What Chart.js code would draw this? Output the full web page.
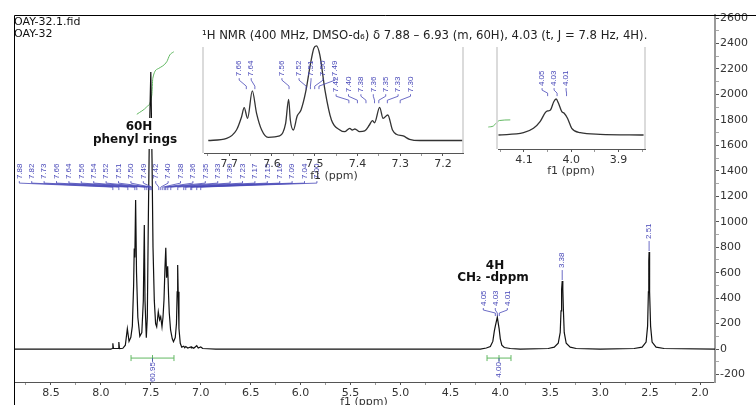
<!DOCTYPE html>
<html>
<head>
<meta charset="utf-8">
<script src="https://cdn.jsdelivr.net/npm/chart.js@4.4.1/dist/chart.umd.min.js"></script>
<style>
  html, body { margin: 0; padding: 0; background: #fff; }
  #wrap { position: relative; width: 756px; height: 405px; overflow: hidden; }
  canvas { position: absolute; }
</style>
</head>
<body>
<div id="wrap">
  <canvas id="main" width="756" height="405" style="left:0;top:0"></canvas>
  <canvas id="inset1" width="280" height="150" style="left:194px;top:40px"></canvas>
  <canvas id="inset2" width="170" height="150" style="left:488px;top:40px"></canvas>
</div>
<script>
// full spectrum (ppm, intensity)
const specPpm = [8.87, 7.90, 7.885, 7.88, 7.874, 7.826, 7.82, 7.814, 7.78, 7.755, 7.735, 7.718, 7.70,
  7.685, 7.672, 7.666, 7.660, 7.652, 7.643, 7.63, 7.61, 7.59, 7.575, 7.565, 7.558, 7.545, 7.535,
  7.525, 7.515, 7.50, 7.488, 7.478, 7.465, 7.452, 7.441, 7.425, 7.412, 7.401, 7.388, 7.378, 7.368,
  7.358, 7.350, 7.342, 7.331, 7.322, 7.315, 7.302, 7.285, 7.273, 7.255, 7.243, 7.236, 7.231, 7.226,
  7.218, 7.205, 7.19, 7.17, 7.16, 7.15, 7.13, 7.10, 7.095, 7.09, 7.07, 7.04, 7.025, 7.00, 6.98,
  6.93, 6.85, 4.20, 4.14, 4.10, 4.075, 4.06, 4.05, 4.04, 4.03, 4.02, 4.012, 4.00, 3.985, 3.96,
  3.90, 3.80, 3.52, 3.46, 3.42, 3.40, 3.392, 3.386, 3.38, 3.374, 3.368, 3.36, 3.34, 3.30, 3.24,
  3.0, 2.66, 2.58, 2.54, 2.525, 2.517, 2.513, 2.51, 2.507, 2.503, 2.495, 2.48, 2.44, 2.36, 1.85];
const specInt = [0, 0, 4, 45, 4, 4, 55, 4, 6, 30, 160, 60, 92,
  180, 500, 790, 720, 1170, 600, 250, 100, 130, 380, 975, 380, 88, 250,
  1000, 1650, 2176, 1500, 800, 380, 200, 175, 293, 230, 254, 175, 250, 385,
  640, 795, 560, 650, 420, 283, 150, 80, 57, 90, 200, 450, 660, 450,
  160, 45, 15, 22, 10, 20, 8, 16, 9, 16, 6, 26, 8, 16, 4,
  2, 0, 0, 8, 20, 60, 140, 180, 215, 250, 200, 160, 80, 30, 12,
  4, 0, 4, 15, 45, 130, 300, 470, 534, 470, 300, 130, 45, 15, 4,
  0, 4, 15, 55, 180, 450, 690, 762, 690, 450, 180, 55, 15, 4, 0];

// integral curves
const integ60Ppm = [7.64, 7.54, 7.49, 7.48, 7.42, 7.34, 7.31, 7.27];
const integ60Val = [1844, 1903, 1995, 2127, 2205, 2257, 2310, 2335];
const integ4Ppm = [4.12, 4.07, 4.04, 4.01, 3.90];
const integ4Val = [1744, 1752, 1775, 1795, 1800];
const integralRanges = [[7.698, 7.268], [4.133, 3.893]];
const integralValues = ['60.95', '4.00'];

// peak picking labels
const mainPeakLabels = [7.88, 7.82, 7.73, 7.66, 7.64, 7.56, 7.54, 7.52, 7.51, 7.50, 7.49, 7.42, 7.40,
  7.38, 7.36, 7.35, 7.33, 7.30, 7.23, 7.17, 7.15, 7.10, 7.09, 7.04, 7.00];
const ch2PeakLabels = [4.05, 4.03, 4.01];
const singlePeakLabels = [3.38, 2.51];
const inset1LabelsA = [7.66, 7.64, 7.56, 7.52, 7.51, 7.50, 7.49];
const inset1LabelsB = [7.42, 7.40, 7.38, 7.36, 7.35, 7.33, 7.30];
const inset2Labels = [4.05, 4.03, 4.01];

// aromatic zoom (relative intensity)
const inset1Ppm = [7.749, 7.706, 7.683, 7.671, 7.665, 7.657, 7.646, 7.636, 7.624, 7.609, 7.582, 7.568,
  7.561, 7.557, 7.550, 7.541, 7.532, 7.521, 7.511, 7.502, 7.496, 7.488, 7.476, 7.461, 7.441, 7.430,
  7.418, 7.412, 7.406, 7.395, 7.383, 7.372, 7.365, 7.360, 7.348, 7.340, 7.329, 7.318, 7.309, 7.293,
  7.278, 7.254, 7.154];
const inset1Int = [0, 2.3, 11.1, 25.2, 34.7, 23.5, 52.4, 28.8, 11.1, 3.4, 4.8, 18.2,
  43.6, 21.7, 11.1, 25.9, 32.3, 51.6, 78.1, 97.6, 100, 90.5, 53.4, 22, 11.1, 9.3,
  12.9, 11.1, 12.2, 9.3, 10.1, 16.4, 21, 18.8, 35.1, 23.5, 27, 11.1, 6.6, 4.8,
  1.3, 0, 0];

// CH2 zoom (relative intensity)
const inset2Ppm = [4.154, 4.101, 4.080, 4.066, 4.055, 4.050, 4.044, 4.037, 4.032, 4.027, 4.020,
  4.015, 4.008, 3.999, 3.981, 3.939, 3.847];
const inset2Int = [0, 6.4, 18.6, 37, 62, 66.7, 69.4, 92.5, 100, 88, 64.7, 60.3, 46.4, 18.6, 6.4, 2, 0];

// tick labels
const mainXTicks = [8.5, 8.0, 7.5, 7.0, 6.5, 6.0, 5.5, 5.0, 4.5, 4.0, 3.5, 3.0, 2.5, 2.0];
const mainYTicks = [-200, 0, 200, 400, 600, 800, 1000, 1200, 1400, 1600, 1800, 2000, 2200, 2400, 2600];
const inset1Ticks = [7.7, 7.6, 7.5, 7.4, 7.3, 7.2];
const inset2Ticks = [4.1, 4.0, 3.9];

const green = '#62b862';
const blue = '#4848b8';
const integralBarY = -71;

const xy = (xs, ys) => xs.map((x, i) => ({ x, y: ys[i] }));
const sum = a => a.reduce((s, v) => s + v, 0);

function withMinors(majors, lo, hi) {
  const step = Math.abs(majors[1] - majors[0]);
  const all = [];
  majors.forEach(m => [m - step / 2, m, m + step / 2].forEach(v => {
    v = Math.round(v * 1000) / 1000;
    if (v >= lo && v <= hi && !all.includes(v)) all.push(v);
  }));
  return all.sort((a, b) => a - b);
}
const isMajor = (majors, v) => majors.some(m => Math.abs(m - v) < 1e-6);

function axisX(majors, lo, hi, h) {
  const all = withMinors(majors, lo, hi);
  return {
    type: 'linear', reverse: true, min: lo, max: hi,
    afterBuildTicks: s => { s.ticks = all.map(v => ({ value: v })); },
    afterFit: s => { s.height = h; },
    grid: { drawOnChartArea: false, tickLength: 3,
      tickColor: c => (c.tick && isMajor(majors, c.tick.value)) ? '#555' : '#999' },
    border: { color: '#555' },
    ticks: { autoSkip: false, maxRotation: 0, padding: 2, color: '#333',
      font: { family: 'DejaVu Sans', size: 11 },
      callback: v => isMajor(majors, v) ? v.toFixed(1) : '' }
  };
}

// rotated peak labels with connectors down to the peak positions
function peakLabels(cfg) {
  return {
    id: 'peakLabels',
    afterDatasetsDraw(chart) {
      const { ctx, scales: { x, y } } = chart;
      ctx.save();
      ctx.font = "8px 'Liberation Sans'";
      ctx.fillStyle = blue;
      ctx.strokeStyle = blue;
      ctx.lineWidth = 0.8;
      const label = (txt, lx, yb) => {
        ctx.save();
        ctx.translate(lx, yb);
        ctx.rotate(-Math.PI / 2);
        ctx.textAlign = 'left';
        ctx.textBaseline = 'middle';
        ctx.fillText(txt, 1, 0);
        ctx.restore();
      };
      (cfg.groups || []).forEach(g => {
        const peaks = g.values.map(v => x.getPixelForValue(v));
        const order = peaks.map((p, i) => i).sort((a, b) => peaks[a] - peaks[b]);
        const pos = [];
        order.forEach((idx, k) => {
          pos[k] = k === 0 ? peaks[idx] : Math.max(peaks[idx], pos[k - 1] + g.gap);
        });
        const shift = (sum(order.map(i => peaks[i])) - sum(pos)) / pos.length + (g.nudge || 0);
        const yb = y.getPixelForValue(g.textBottom);
        order.forEach((idx, k) => {
          const lx = pos[k] + shift, px = peaks[idx];
          label(g.values[idx].toFixed(2), lx, yb);
          ctx.beginPath();
          ctx.moveTo(lx, yb + 1);
          ctx.lineTo(lx, yb + 3);
          ctx.lineTo(px, yb + g.drop - 3);
          ctx.lineTo(px, yb + g.drop);
          ctx.stroke();
        });
      });
      (cfg.singles || []).forEach(v => {
        const pts = chart.data.datasets[0].data.filter(p => Math.abs(p.x - v) < 0.02);
        const top = y.getPixelForValue(Math.max(...pts.map(p => p.y)));
        const px = x.getPixelForValue(v);
        label(v.toFixed(2), px, top - 12);
        ctx.beginPath();
        ctx.moveTo(px, top - 11);
        ctx.lineTo(px, top - 1);
        ctx.stroke();
      });
      if (cfg.integrals) {
        const by = y.getPixelForValue(integralBarY);
        cfg.integrals.ranges.forEach((r, i) => {
          const cx = x.getPixelForValue((r[0] + r[1]) / 2);
          ctx.beginPath();
          ctx.moveTo(cx, by);
          ctx.lineTo(cx, by + 4);
          ctx.stroke();
          ctx.save();
          ctx.translate(cx, by + 4);
          ctx.rotate(-Math.PI / 2);
          ctx.textAlign = 'right';
          ctx.textBaseline = 'middle';
          ctx.fillText(cfg.integrals.labels[i], 0, 0);
          ctx.restore();
        });
      }
      ctx.restore();
    }
  };
}

// header texts, annotations and the frame
const notesPlugin = {
  id: 'notes',
  afterDraw(chart) {
    const { ctx, chartArea: a } = chart;
    ctx.save();
    ctx.strokeStyle = '#000';
    ctx.lineWidth = 1;
    ctx.beginPath();
    ctx.moveTo(a.left + 0.5, 405);
    ctx.lineTo(a.left + 0.5, a.top + 0.5);
    ctx.lineTo(756, a.top + 0.5);
    ctx.stroke();

    const txt = (s, x, y, font, align, color) => {
      ctx.font = font;
      ctx.textAlign = align || 'left';
      ctx.textBaseline = 'middle';
      ctx.fillStyle = color || '#111';
      ctx.fillText(s, x, y);
    };
    txt('OAY-32.1.fid', 14, 22, "11px 'DejaVu Sans'");
    txt('OAY-32', 14, 34, "11px 'DejaVu Sans'");

    const head = '\u00b9H NMR (400 MHz, DMSO-d\u2086) \u03b4 7.88 \u2013 6.93 (m, 60H), 4.03 (t, J = 7.8 Hz, 4H).';
    ctx.font = "10px 'DejaVu Sans'";
    const size = 10 * 446 / ctx.measureText(head).width;
    txt(head, 202, 36, size.toFixed(2) + "px 'DejaVu Sans'", 'left', '#222');

    ctx.fillStyle = '#fff';
    ctx.fillRect(91, 118, 89, 31);
    txt('60H', 139, 127, "bold 12px 'DejaVu Sans'", 'center');
    txt('phenyl rings', 135, 140, "bold 12px 'DejaVu Sans'", 'center');
    txt('4H', 495, 266, "bold 12px 'DejaVu Sans'", 'center');
    txt('CH\u2082 -dppm', 493, 278, "bold 12px 'DejaVu Sans'", 'center');

    txt('f1 (ppm)', 364, 402, "11px 'DejaVu Sans'", 'center', '#333');
    txt('f1 (ppm)', 334, 176, "11px 'DejaVu Sans'", 'center', '#333');
    txt('f1 (ppm)', 571, 171, "11px 'DejaVu Sans'", 'center', '#333');
    ctx.restore();
  }
};

const insetFrame = {
  id: 'insetFrame',
  afterDraw(chart) {
    const { ctx, chartArea: a } = chart;
    ctx.save();
    ctx.strokeStyle = '#cfcfcf';
    ctx.lineWidth = 1.5;
    ctx.beginPath();
    ctx.moveTo(a.left - 1, a.top + 2);
    ctx.lineTo(a.left - 1, a.bottom);
    ctx.moveTo(a.right, a.top + 2);
    ctx.lineTo(a.right, a.bottom);
    ctx.stroke();
    ctx.restore();
  }
};

const mainXAll = withMinors(mainXTicks, 1.85, 8.87);
const mainYAll = withMinors(mainYTicks, -259, 2624);

new Chart(document.getElementById('main'), {
  type: 'line',
  data: {
    datasets: [
      { data: xy(specPpm, specInt), borderColor: '#111', borderWidth: 1.2, pointRadius: 0, tension: 0 },
      { data: xy(integ60Ppm, integ60Val), borderColor: green, borderWidth: 1, pointRadius: 0,
        cubicInterpolationMode: 'monotone' },
      { data: xy(integ4Ppm, integ4Val), borderColor: green, borderWidth: 1, pointRadius: 0,
        cubicInterpolationMode: 'monotone' },
      ...integralRanges.map(r => ({
        data: [{ x: r[0], y: integralBarY }, { x: (r[0] + r[1]) / 2, y: integralBarY }, { x: r[1], y: integralBarY }],
        borderColor: green, borderWidth: 1, pointStyle: 'line', pointRadius: 3, pointRotation: 90,
        pointBorderColor: green, pointBorderWidth: 1
      }))
    ]
  },
  options: {
    responsive: false,
    animation: false,
    layout: { padding: { left: 14, top: 15, right: 0, bottom: 0 } },
    plugins: { legend: { display: false }, tooltip: { enabled: false } },
    scales: {
      x: axisX(mainXTicks, 1.85, 8.87, 23),
      y: {
        position: 'right', min: -259, max: 2624,
        afterBuildTicks: s => { s.ticks = mainYAll.map(v => ({ value: v })); },
        afterFit: s => { s.width = 41; },
        grid: { drawOnChartArea: false, tickLength: 4,
          tickColor: c => (c.tick && isMajor(mainYTicks, c.tick.value)) ? '#555' : '#aaa' },
        border: { color: '#9a9a9a', width: 2 },
        ticks: { autoSkip: false, padding: 1, color: '#333',
          font: { family: 'DejaVu Sans', size: 11 },
          callback: v => isMajor(mainYTicks, v) ? String(v) : '' }
      }
    }
  },
  plugins: [notesPlugin, peakLabels({
    groups: [
      { values: mainPeakLabels, textBottom: 1327, gap: 12.4, drop: 10, nudge: 8 },
      { values: ch2PeakLabels, textBottom: 330, gap: 12, drop: 9, nudge: -2 }
    ],
    singles: singlePeakLabels,
    integrals: { ranges: integralRanges, labels: integralValues }
  })]
});

function inset(id, ppm, vals, lo, hi, ymin, ymax, ticks, pad, h, groups) {
  new Chart(document.getElementById(id), {
    type: 'line',
    data: { datasets: [{ data: xy(ppm, vals), borderColor: '#333', borderWidth: 1.3, pointRadius: 0,
      cubicInterpolationMode: 'monotone' }] },
    options: {
      responsive: false,
      animation: false,
      layout: { padding: pad },
      plugins: { legend: { display: false }, tooltip: { enabled: false } },
      scales: {
        x: axisX(ticks, lo, hi, h),
        y: { display: false, min: ymin, max: ymax }
      }
    },
    plugins: [insetFrame, peakLabels({ groups })]
  });
}

inset('inset1', inset1Ppm, inset1Int, 7.153, 7.759, -13.2, 101, inset1Ticks,
  { left: 10, top: 5, right: 11, bottom: 0 }, 37, [
    { values: inset1LabelsA, textBottom: 67, gap: 12, drop: 12 },
    { values: inset1LabelsB, textBottom: 50, gap: 12.4, drop: 10 }
  ]);
inset('inset2', inset2Ppm, inset2Int, 3.844, 4.155, -38.9, 250, inset2Ticks,
  { left: 10, top: 5, right: 13, bottom: 0 }, 41, [
    { values: inset2Labels, textBottom: 133, gap: 12, drop: 9, nudge: -3 }
  ]);
</script>
</body>
</html>
